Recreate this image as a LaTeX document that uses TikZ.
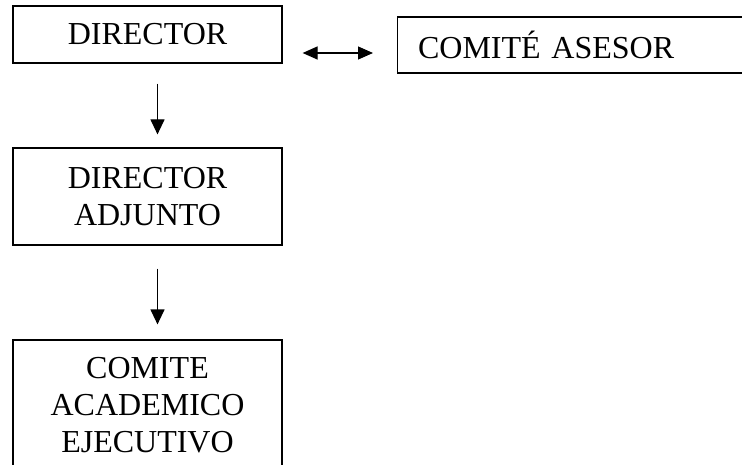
\documentclass[tikz,border=0pt]{standalone}
\usepackage{fontspec}
\setmainfont{Liberation Serif}
\usetikzlibrary{arrows.meta}

\tikzset{
    box/.style={draw, line width=1.2pt, rectangle, inner sep=0pt, align=center,
        font=\fontsize{32}{37}\selectfont},
    link/.style={line width=1.2pt, -{Triangle[length=15pt,width=14pt]}},
    bilink/.style={line width=1.2pt, {Triangle[length=15pt,width=13pt]}-{Triangle[length=15pt,width=13pt]}},
}

\begin{document}
\begin{tikzpicture}[x=1pt,y=-1pt]
        \useasboundingbox (0,0) rectangle (742,465);
        \clip (0,0) rectangle (742,465);

        % Boxes
        \node [box, minimum width=269, minimum height=57] (director) at (147.5,34.5) {DIRECTOR};
        \node [box, anchor=west, minimum height=56, text width=380, inner xsep=20.5, align=left]
            (asesor) at (397,45) {COMITÉ ASESOR};
        \node [box, minimum width=269, minimum height=97] (adjunto) at (147.5,196.5) {DIRECTOR\\ADJUNTO};
        \node [box, minimum width=269, minimum height=130] (academico) at (147.5,405) {COMITE\\ACADEMICO\\EJECUTIVO};

        % Arrows
        \draw [bilink] ([xshift=20pt,yshift=-18.5pt]director.east) -- ([xshift=-24pt,yshift=-8pt]asesor.west);
        \draw [link, shorten <=20pt, shorten >=13pt] ([xshift=10pt]director.south) -- ([xshift=10pt]adjunto.north);
        \draw [link, shorten <=23pt, shorten >=15pt] ([xshift=10pt]adjunto.south) -- ([xshift=10pt]academico.north);
\end{tikzpicture}
\end{document}
